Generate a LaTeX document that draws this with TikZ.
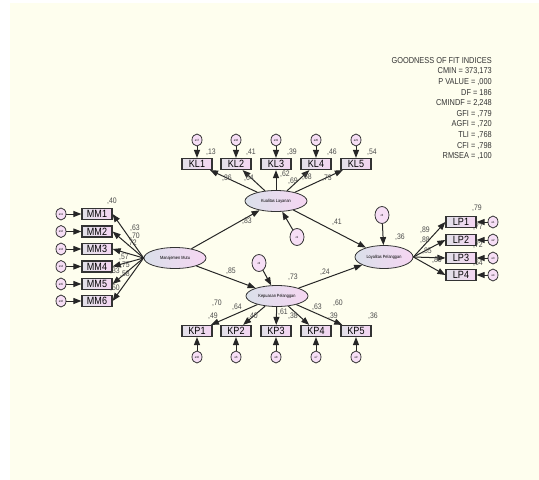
\documentclass[tikz,border=0pt]{standalone}
\usepackage{fontspec}
\setmainfont[FakeStretch=0.86]{Liberation Sans}
\usetikzlibrary{arrows.meta,shapes.geometric}

\definecolor{cream}{RGB}{254,254,238}
\definecolor{boxl}{RGB}{226,224,232}
\definecolor{boxr}{RGB}{244,214,242}
\definecolor{ovl}{RGB}{218,224,234}
\definecolor{ovr}{RGB}{246,214,242}

\tikzset{
  ind/.style={rectangle, draw=black!80, line width=1.2pt, left color=boxl, right color=boxr,
    minimum width=30pt, minimum height=11pt, inner sep=0pt, font=\fontsize{10.5}{10.5}\selectfont},
  lat/.style={ellipse, draw=black!80, line width=0.8pt, left color=ovl, right color=ovr,
    minimum width=62pt, minimum height=21pt, inner sep=0pt, font=\fontsize{4.5}{4.5}\selectfont},
  err/.style={ellipse, draw=black!80, line width=0.8pt, fill=boxr!80,
    minimum width=10pt, minimum height=12pt, inner sep=0pt, font=\fontsize{3}{3}\selectfont},
  dist/.style={err, minimum width=14pt, minimum height=17pt},
  arr/.style={-{Triangle[length=8pt,width=6pt]}, line width=1pt, draw=black!85},
  num/.style={font=\fontsize{8}{8}\selectfont, text=black!70, inner sep=0pt}
}

\begin{document}
\begin{tikzpicture}[x=1pt, y=-1pt]
    \useasboundingbox (0,0) rectangle (539,480);
    % Background
    \fill[cream] (10,3) rectangle (539,480);

    % Goodness of fit
    \node[anchor=north east, align=right, inner sep=0pt, text=black!80,
      font=\fontsize{8.6}{10.6}\selectfont] (gof) at (492,57)
      {GOODNESS OF FIT INDICES\\ CMIN = 373,173\\ P VALUE = ,000\\ DF = 186\\
       CMINDF = 2,248\\ GFI = ,779\\ AGFI = ,720\\ TLI = ,768\\ CFI = ,798\\ RMSEA = ,100};

    % Latent variables
    \node[lat] (mm) at (175,258) {Manajemen Mutu};
    \node[lat] (kl) at (276,201) {Kualitas Layanan};
    \node[lat] (kp) at (277,296) {Kepuasan Pelanggan};
    \node[lat, minimum width=58pt, minimum height=23pt] (lp) at (384,257) {Loyalitas Pelanggan};

    % Disturbances
    \node[dist] (z1) at (297,237) {z1};
    \node[dist] (z2) at (259,263) {z2};
    \node[dist] (z3) at (382,215) {z3};

    % Kualitas Layanan indicators
    \node[ind] (kl1) at (197,164) {KL1};
    \node[ind] (kl2) at (236,164) {KL2};
    \node[ind] (kl3) at (276,164) {KL3};
    \node[ind] (kl4) at (316,164) {KL4};
    \node[ind] (kl5) at (356,164) {KL5};
    \node[err] (e17) at (197,140) {e17};
    \node[err] (e18) at (236,140) {e18};
    \node[err] (e19) at (276,140) {e19};
    \node[err] (e20) at (316,140) {e20};
    \node[err] (e21) at (356,140) {e21};

    % Kepuasan Pelanggan indicators
    \node[ind] (kp1) at (197,331) {KP1};
    \node[ind] (kp2) at (236,331) {KP2};
    \node[ind] (kp3) at (276,331) {KP3};
    \node[ind] (kp4) at (316,331) {KP4};
    \node[ind] (kp5) at (356,331) {KP5};
    \node[err] (e5) at (197,357) {e10};
    \node[err] (e6) at (236,357) {e6};
    \node[err] (e7) at (276,357) {e8};
    \node[err] (e8) at (316,357) {e7};
    \node[err] (e9) at (356,357) {e9};

    % Manajemen Mutu indicators
    \node[ind] (mm1) at (97,214) {MM1};
    \node[ind] (mm2) at (97,231.5) {MM2};
    \node[ind] (mm3) at (97,249) {MM3};
    \node[ind] (mm4) at (97,266.5) {MM4};
    \node[ind] (mm5) at (97,284) {MM5};
    \node[ind] (mm6) at (97,301) {MM6};
    \node[err] (e11) at (61,214) {e11};
    \node[err] (e12) at (61,231.5) {e12};
    \node[err] (e13) at (61,249) {e13};
    \node[err] (e14) at (61,266.5) {e14};
    \node[err] (e15) at (61,284) {e15};
    \node[err] (e16) at (61,301) {e16};

    % Loyalitas Pelanggan indicators
    \node[ind] (lp1) at (461,222) {LP1};
    \node[ind] (lp2) at (461,240) {LP2};
    \node[ind] (lp3) at (461,258) {LP3};
    \node[ind] (lp4) at (461,275) {LP4};
    \node[err] (e1) at (493,222) {e1};
    \node[err] (e2) at (493,240) {e2};
    \node[err] (e3) at (493,258) {e3};
    \node[err] (e4) at (493,275) {e4};

    % Structural paths
    \draw[arr] (mm) -- (kl);
    \draw[arr] (mm) -- (kp);
    \draw[arr] (kl) -- (lp);
    \draw[arr] (kp) -- (lp);
    \draw[arr] (z1) -- (kl);
    \draw[arr] (z2) -- (kp);
    \draw[arr] (z3) -- (lp);

    % Loadings
    \draw[arr] (kl) -- (kl1);
    \draw[arr] (kl) -- (kl2);
    \draw[arr] (kl) -- (kl3);
    \draw[arr] (kl) -- (kl4);
    \draw[arr] (kl) -- (kl5);
    \draw[arr] (kp) -- (kp1);
    \draw[arr] (kp) -- (kp2);
    \draw[arr] (kp) -- (kp3);
    \draw[arr] (kp) -- (kp4);
    \draw[arr] (kp) -- (kp5);
    \draw[arr] (mm.west) -- (mm1.east);
    \draw[arr] (mm.west) -- (mm2.east);
    \draw[arr] (mm.west) -- (mm3.east);
    \draw[arr] (mm.west) -- (mm4.east);
    \draw[arr] (mm.west) -- (mm5.east);
    \draw[arr] (mm.west) -- (mm6.east);
    \draw[arr] (lp.east) -- (lp1.west);
    \draw[arr] (lp.east) -- (lp2.west);
    \draw[arr] (lp.east) -- (lp3.west);
    \draw[arr] (lp.east) -- (lp4.west);

    % Error terms
    \draw[arr] (e17) -- (kl1);
    \draw[arr] (e18) -- (kl2);
    \draw[arr] (e19) -- (kl3);
    \draw[arr] (e20) -- (kl4);
    \draw[arr] (e21) -- (kl5);
    \draw[arr] (e5) -- (kp1);
    \draw[arr] (e6) -- (kp2);
    \draw[arr] (e7) -- (kp3);
    \draw[arr] (e8) -- (kp4);
    \draw[arr] (e9) -- (kp5);
    \draw[arr] (e11) -- (mm1);
    \draw[arr] (e12) -- (mm2);
    \draw[arr] (e13) -- (mm3);
    \draw[arr] (e14) -- (mm4);
    \draw[arr] (e15) -- (mm5);
    \draw[arr] (e16) -- (mm6);
    \draw[arr] (e1) -- (lp1);
    \draw[arr] (e2) -- (lp2);
    \draw[arr] (e3) -- (lp3);
    \draw[arr] (e4) -- (lp4);

    % Path coefficients
    \node[num] (b1) at (247,221) {,83};
    \node[num] (b2) at (231,271) {,85};
    \node[num] (b3) at (337,222) {,41};
    \node[num] (b4) at (325,272) {,24};
    \node[num] (r1) at (293,181) {,69};
    \node[num] (r2) at (293,277) {,73};
    \node[num] (r3) at (400,237) {,36};

    % Kualitas Layanan values
    \node[num] (q1) at (211,152) {,13};
    \node[num] (q2) at (251,152) {,41};
    \node[num] (q3) at (292,152) {,39};
    \node[num] (q4) at (332,152) {,46};
    \node[num] (q5) at (372,152) {,54};
    \node[num] (f1) at (227,178) {,36};
    \node[num] (f2) at (249,178) {,64};
    \node[num] (f3) at (285,174.5) {,62};
    \node[num] (f4) at (307,177) {,68};
    \node[num] (f5) at (327,178) {,73};

    % Kepuasan Pelanggan values
    \node[num] (g1) at (217,303) {,70};
    \node[num] (g2) at (237,307) {,64};
    \node[num] (g3) at (283,312) {,61};
    \node[num] (g4) at (317,307) {,63};
    \node[num] (g5) at (338,303) {,60};
    \node[num] (s1) at (213,316) {,49};
    \node[num] (s2) at (253,316) {,40};
    \node[num] (s3) at (293,316) {,38};
    \node[num] (s4) at (333,316) {,39};
    \node[num] (s5) at (373,316) {,36};

    % Manajemen Mutu values
    \node[num] (m1) at (112,201) {,40};
    \node[num] (h1) at (135,228) {,63};
    \node[num] (h2) at (135,236) {,70};
    \node[num] (h3) at (132,243) {,72};
    \node[num] (h4) at (124,257) {,57};
    \node[num] (h5) at (125,265) {,75};
    \node[num] (h6) at (115,271) {,33};
    \node[num] (h7) at (125,274) {,58};
    \node[num] (h8) at (115,288) {,50};

    % Loyalitas Pelanggan values
    \node[num] (p1) at (477,208) {,79};
    \node[num] (p2) at (478,227) {,77};
    \node[num] (p3) at (478,245) {,72};
    \node[num] (p4) at (478,263) {,64};
    \node[num] (k1) at (425,230) {,89};
    \node[num] (k2) at (425,240) {,88};
    \node[num] (k3) at (427,251) {,85};
    \node[num] (k4) at (437,260) {,80};
\end{tikzpicture}
\end{document}
